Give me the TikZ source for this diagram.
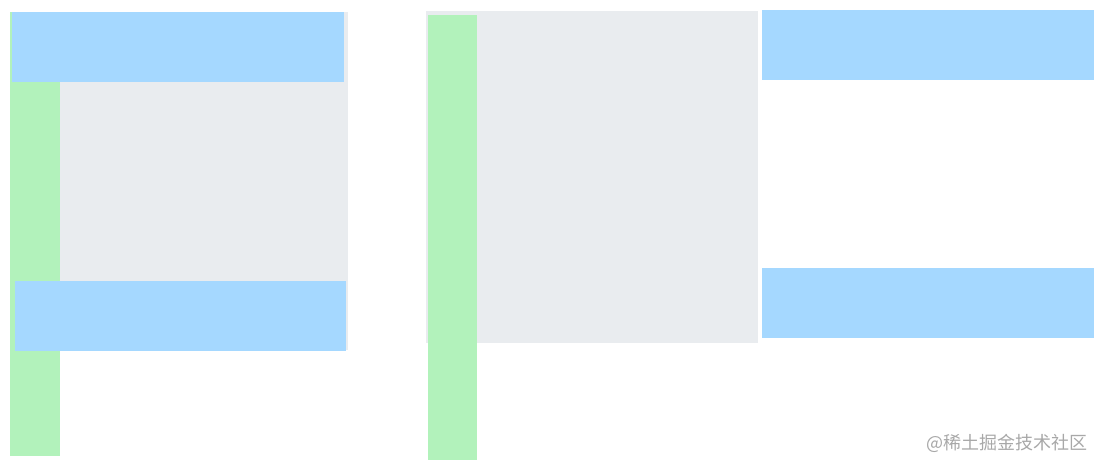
\documentclass[tikz,border=0pt]{standalone}
\usepackage{fontspec}
\newfontfamily\cjk{Noto Sans CJK SC}
\usepackage{tikz}

\definecolor{boxgray}{HTML}{E9ECEF}
\definecolor{boxgreen}{HTML}{B2F2BB}
\definecolor{boxblue}{HTML}{A5D8FF}
\definecolor{markgray}{HTML}{A8A8A8}

\begin{document}
\begin{tikzpicture}[x=1pt,y=-1pt]
  \def\w{332}
  \def\h{70}

\tikzstyle{box}=[rectangle,anchor=north west,inner sep=0pt,outer sep=0pt,draw=none]
\tikzstyle{bar}=[box,fill=boxblue,minimum width=\w pt,minimum height=\h pt]
\tikzstyle{post}=[box,fill=boxgreen,minimum width=50pt]
\useasboundingbox (0,0) rectangle (1103,469);
% left group
\node[box][fill=boxgray,minimum width=336pt,minimum height=338pt] (G1) at (12,12) {};
\node[post][minimum height=444pt] (S1) at (10,12) {};
\node[bar] (T1) at (12,12) {};
\node[bar][minimum width=331pt] (B1) at (15,281) {};
% right group
\node[box][fill=boxgray,minimum width=\w pt,minimum height=332pt] (G2) at (426,11) {};
\node[post][minimum width=49pt,minimum height=445pt] (S2) at (428,15) {};
\node[bar] (T2) at (762,10) {};
\node[bar] (B2) at (762,268) {};
% watermark
\node[anchor=east,text=markgray,font=\cjk\fontsize{18pt}{20pt}\selectfont,inner sep=0pt] (M) at (1088,443) {@稀土掘金技术社区};
\end{tikzpicture}
\end{document}
